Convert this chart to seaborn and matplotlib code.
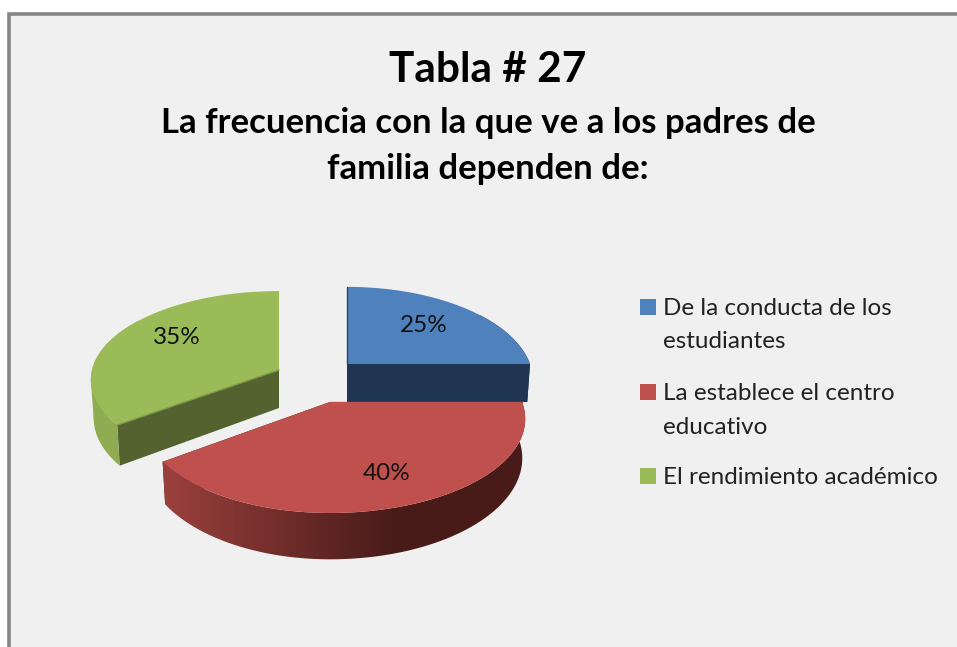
import numpy as np
import matplotlib
matplotlib.use('Agg')
import matplotlib.pyplot as plt
import matplotlib.colors as mcolors
from matplotlib.patches import Polygon
import seaborn as sns

# Data
categories = ['De la conducta de los\nestudiantes',
              'La establece el centro\neducativo',
              'El rendimiento académico']
percent = [25, 40, 35]

# Slice styles
top_colors = ['#4F81BD', '#C0504D', '#9BBB59']
cut_colors = ['#1F3552', '#4A1B19', '#53622E']
wall_left = ['#1F3552', '#9A403D', '#8FAC52']
wall_right = ['#1F3552', '#481B19', '#7D9648']
edge_colors = ['#2A4668', '#C0504D', '#7F9A49']

# Pie layout (pixels of the 957x647 image)
apex = [(347, 364), (330, 402), (279, 370)]
width_left = [183, 185, 187]
width_right = [183, 192, 187]
pie_b = [91, 91, 87.6]
persp = [0.18, 0.18, 0.11]
depth = 38
shrink = 0.985

sns.set_theme(style='white')
plt.rcParams['font.family'] = ['Lato', 'DejaVu Sans']
palette = sns.color_palette(top_colors)

fig = plt.figure(figsize=(9.57, 6.47), dpi=100, facecolor='white')
ax = fig.add_axes([0, 0, 1, 1])

# Chart area with its grey frame
ax.fill([8.5, 957, 957, 8.5], [13.5, 13.5, 647, 647], facecolor='#F0F0F0',
        edgecolor='none', zorder=0)
ax.plot([8.5, 8.5, 957], [647, 13.5, 13.5], color='#868686', lw=2.6, zorder=1,
        solid_joinstyle='miter')


def rim(i, theta):
    c, s = np.sin(theta), -np.cos(theta)
    k = 1 / (1 - persp[i] * s)
    a = np.where(c < 0, width_left[i], width_right[i])
    return c * a * k, s * pie_b[i] * k, depth * k, s


start = 0
for i, p in enumerate(percent):
    end = start + p / sum(percent) * 2 * np.pi
    theta = np.linspace(start, end, 240)
    x, y, d, s = rim(i, theta)
    cx, cy = apex[i]
    # the wall strip pinches where both rims cross at the widest point, fill that gap
    im = np.argmin(x)
    if 0 < im < len(x) - 1:
        ax.fill([cx + x[im], cx + x[im] * shrink, cx],
                [cy + y[im], cy + y[im] + d[im], cy + depth / 2],
                color=wall_left[i], lw=0, zorder=2 + i)
    # cut faces
    for j in (0, -1):
        ax.fill([cx, cx + x[j], cx + x[j] * shrink, cx],
                [cy, cy + y[j], cy + y[j] + d[j], cy + depth],
                color=cut_colors[i], lw=0, zorder=2 + i)
    # outer wall, shaded from left to right
    front = s > -0.6
    fx, fy, fd = x[front], y[front], d[front]
    wall = np.c_[np.r_[cx + fx, (cx + fx * shrink)[::-1]],
                 np.r_[cy + fy, (cy + fy + fd)[::-1]]]
    c0 = np.array(mcolors.to_rgb(wall_left[i]))
    c1 = np.array(mcolors.to_rgb(wall_right[i]))
    f = np.linspace(0, 1, 256)[None, :, None]
    img = ax.imshow(c0 + (c1 - c0) * f, extent=(cx - 165, cx + 65, 0, 647),
                    aspect='auto', zorder=2 + i, interpolation='bilinear')
    img.set_clip_path(Polygon(wall, transform=ax.transData))
    # pad the ramp past its ends with the end colours
    ax.fill([0, cx - 165, cx - 165, 0], [0, 0, 647, 647], color=wall_left[i], lw=0,
            zorder=2 + i).pop().set_clip_path(Polygon(wall, transform=ax.transData))
    ax.fill([cx + 65, 957, 957, cx + 65], [0, 0, 647, 647], color=wall_right[i], lw=0,
            zorder=2 + i).pop().set_clip_path(Polygon(wall, transform=ax.transData))
    # top face
    ax.fill(np.r_[cx, cx + x], np.r_[cy, cy + y], color=palette[i], lw=0, zorder=2 + i)
    ax.plot([cx, cx + x[0]], [cy, cy + y[0]], color=edge_colors[i], lw=1, zorder=2 + i)
    start = end

ax.set_xlim(0, 957)
ax.set_ylim(647, 0)
ax.axis('off')

# Percent labels
label_pos = [(424, 325), (387, 474), (177, 337)]
for (lx, ly), p in zip(label_pos, percent):
    ax.text(lx, ly, f'{p}%', ha='center', va='center', fontsize=17.5, color='#111111', zorder=8)

# Titles
ax.text(488, 70, 'Tabla # 27', ha='center', va='center', fontsize=30.5, fontweight='bold', color='black')
ax.text(488, 146, 'La frecuencia con la que ve a los padres de\nfamilia dependen de:',
        ha='center', va='center', fontsize=25, fontweight='bold', color='black', linespacing=1.56)

# Legend: square bottom sits on the first baseline of its entry
legend_base = [315, 400, 484]
for c, label, base in zip(palette, categories, legend_base):
    ax.fill([640, 656, 656, 640], [base - 16, base - 16, base, base], color=c, lw=0, zorder=8)
    for n, line in enumerate(label.split('\n')):
        ax.text(663, base + n * 33.5, line, ha='left', va='baseline', fontsize=17.5,
                color='#222222', zorder=8)

fig.savefig('out.png', dpi=100, facecolor='white')
